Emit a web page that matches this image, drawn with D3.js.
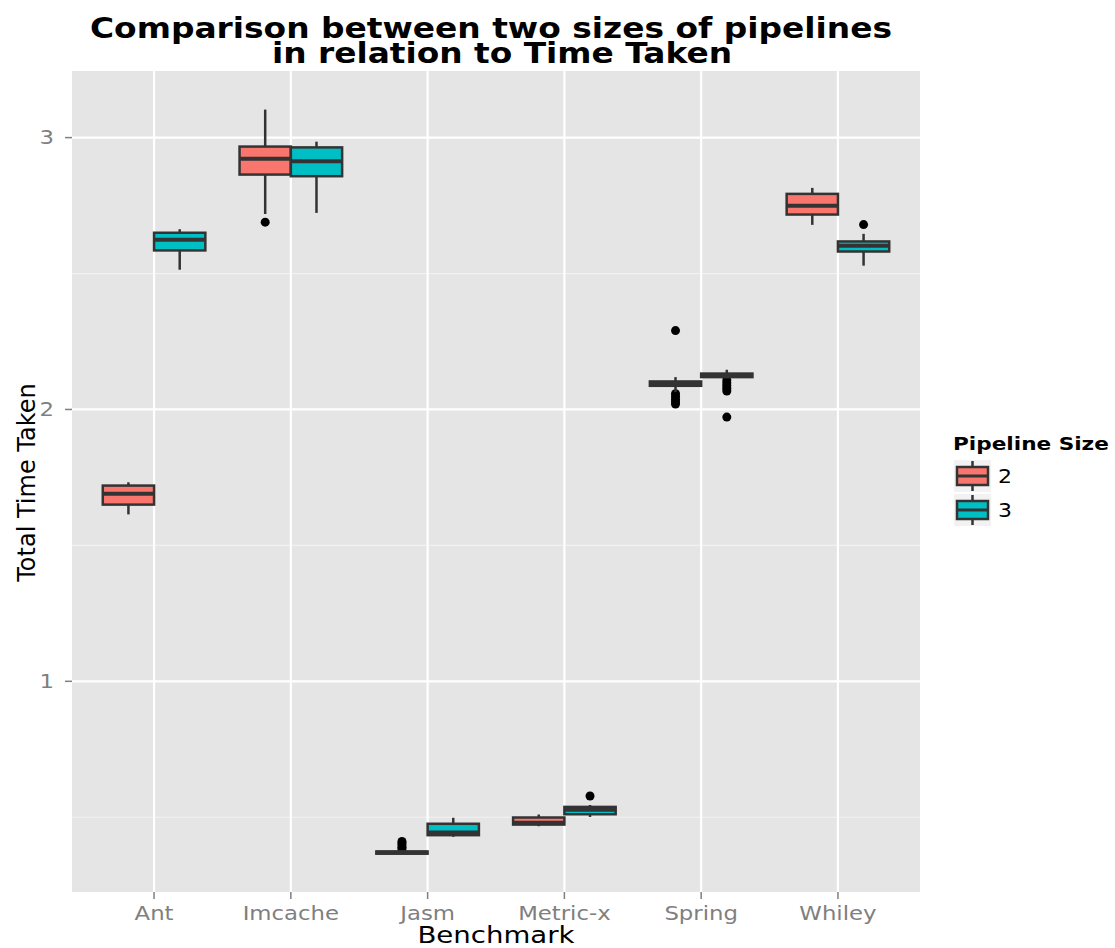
<!DOCTYPE html>
<html>
<head>
<meta charset="utf-8">
<script src="https://cdn.jsdelivr.net/npm/d3@7"></script>
<style>
  body { margin: 0; background: #fff; }
  text { font-family: "DejaVu Sans", sans-serif; }
</style>
</head>
<body>
<script>
// chart data
const benchmarks = ["Ant", "Imcache", "Jasm", "Metric-x", "Spring", "Whiley"];
const sizes = ["2", "3"];
const yTicks = [1, 2, 3];

// pipeline size 2
const low2    = [1.614, 2.719, 0.366, 0.467, 2.064, 2.679];
const q1_2    = [1.650, 2.864, 0.366, 0.473, 2.087, 2.717];
const med2    = [1.690, 2.922, 0.370, 0.480, 2.095, 2.749];
const q3_2    = [1.720, 2.967, 0.374, 0.499, 2.103, 2.793];
const high2   = [1.732, 3.103, 0.378, 0.510, 2.119, 2.815];
const out2    = [[], [2.689], [0.383, 0.390, 0.398, 0.405, 0.411], [], [2.290, 2.058, 2.048, 2.038, 2.028, 2.020], []];

// pipeline size 3
const low3    = [2.514, 2.723, 0.428, 0.501, 2.115, 2.529];
const q1_3    = [2.585, 2.858, 0.434, 0.511, 2.119, 2.581];
const med3    = [2.624, 2.913, 0.444, 0.528, 2.126, 2.602];
const q3_3    = [2.650, 2.964, 0.476, 0.538, 2.132, 2.618];
const high3   = [2.663, 2.985, 0.498, 0.545, 2.146, 2.646];
const out3    = [[], [], [], [0.578], [2.108, 2.098, 2.088, 2.078, 2.068, 1.972], [2.680]];

const colors = ["#F8766D", "#00BFC4"];

const W = 1115, H = 948;
const panel = {left: 72, right: 920, top: 71, bottom: 892};
const SX = 1.2; // the reference text is drawn a bit wide

const svg = d3.select("body").append("svg")
    .attr("width", W)
    .attr("height", H);

// ggplot style discrete axis: 0.6 units of padding each side
const x = d3.scalePoint()
    .domain(benchmarks)
    .range([panel.left, panel.right])
    .padding(0.6);
const unit = x.step();
const cx = d => x(d);

const y = d3.scaleLinear()
    .domain([0.225, 3.245])
    .range([panel.bottom, panel.top]);

// text helper, stretched horizontally
function wideText(sel, tx, ty, sx) {
  return sel.attr("transform", (d, i) => "translate(" + tx(d, i) + "," + ty(d, i) + ") scale(" + sx + ",1)");
}

// panel background
svg.append("rect")
    .attr("x", panel.left).attr("y", panel.top)
    .attr("width", panel.right - panel.left)
    .attr("height", panel.bottom - panel.top)
    .attr("fill", "#E5E5E5");

// minor grid
const minor = [0.5, 1.5, 2.5];
svg.selectAll("line.minor").data(minor).enter().append("line")
    .attr("class", "minor")
    .attr("x1", panel.left).attr("x2", panel.right)
    .attr("y1", d => y(d)).attr("y2", d => y(d))
    .attr("stroke", "#F2F2F2").attr("stroke-width", 1.2);

// major grid
svg.selectAll("line.hgrid").data(yTicks).enter().append("line")
    .attr("class", "hgrid")
    .attr("x1", panel.left).attr("x2", panel.right)
    .attr("y1", d => y(d)).attr("y2", d => y(d))
    .attr("stroke", "#fff").attr("stroke-width", 2.2);

svg.selectAll("line.vgrid").data(benchmarks).enter().append("line")
    .attr("class", "vgrid")
    .attr("x1", d => cx(d)).attr("x2", d => cx(d))
    .attr("y1", panel.top).attr("y2", panel.bottom)
    .attr("stroke", "#fff").attr("stroke-width", 2.2);

// build box rows from the arrays
function rows(si, lo, a, m, b, hi, outs) {
  return benchmarks.map((bm, i) => ({
    bench: bm, size: sizes[si], si: si,
    low: lo[i], q1: a[i], med: m[i], q3: b[i], high: hi[i], outs: outs[i]
  }));
}
const boxes = rows(0, low2, q1_2, med2, q3_2, high2, out2)
  .concat(rows(1, low3, q1_3, med3, q3_3, high3, out3));

const boxW = unit * 0.375;
const boxX = d => cx(d.bench) + (d.si === 0 ? -boxW : 0);

const g = svg.append("g");

// outliers
boxes.forEach(function(d) {
  g.selectAll(null).data(d.outs).enter().append("circle")
    .attr("cx", boxX(d) + boxW / 2)
    .attr("cy", v => y(v))
    .attr("r", 4.5)
    .attr("fill", "#000");
});

// whiskers
g.selectAll("line.whisker").data(boxes).enter().append("line")
    .attr("class", "whisker")
    .attr("x1", d => boxX(d) + boxW / 2).attr("x2", d => boxX(d) + boxW / 2)
    .attr("y1", d => y(d.low)).attr("y2", d => y(d.high))
    .attr("stroke", "#333").attr("stroke-width", 2.5);

// boxes
g.selectAll("rect.box").data(boxes).enter().append("rect")
    .attr("class", "box")
    .attr("x", d => boxX(d))
    .attr("y", d => y(d.q3))
    .attr("width", boxW)
    .attr("height", d => Math.max(0.5, y(d.q1) - y(d.q3)))
    .attr("fill", d => colors[d.si])
    .attr("stroke", "#333").attr("stroke-width", 2.5);

// medians
g.selectAll("line.median").data(boxes).enter().append("line")
    .attr("class", "median")
    .attr("x1", d => boxX(d)).attr("x2", d => boxX(d) + boxW)
    .attr("y1", d => y(d.med)).attr("y2", d => y(d.med))
    .attr("stroke", "#333").attr("stroke-width", 4);

// y axis
svg.selectAll("line.ytick").data(yTicks).enter().append("line")
    .attr("x1", panel.left - 7).attr("x2", panel.left)
    .attr("y1", d => y(d)).attr("y2", d => y(d))
    .attr("stroke", "#7f7f7f").attr("stroke-width", 1.5);
wideText(svg.selectAll("text.ylab").data(yTicks).enter().append("text"),
    () => panel.left - 18, d => y(d), SX)
    .attr("dy", "0.36em")
    .attr("text-anchor", "end")
    .attr("font-size", 19)
    .attr("fill", "#7f7f7f")
    .text(d => d);

// x axis
svg.selectAll("line.xtick").data(benchmarks).enter().append("line")
    .attr("x1", d => cx(d)).attr("x2", d => cx(d))
    .attr("y1", panel.bottom).attr("y2", panel.bottom + 7)
    .attr("stroke", "#7f7f7f").attr("stroke-width", 1.5);
wideText(svg.selectAll("text.xlab").data(benchmarks).enter().append("text"),
    d => cx(d), () => 920, SX)
    .attr("text-anchor", "middle")
    .attr("font-size", 19)
    .attr("fill", "#7f7f7f")
    .text(d => d);

// axis titles
wideText(svg.append("text"), () => (panel.left + panel.right) / 2, () => 943, SX)
    .attr("text-anchor", "middle")
    .attr("font-size", 23)
    .text("Benchmark");
svg.append("text")
    .attr("transform", "translate(35," + ((panel.top + panel.bottom) / 2 + 1) + ") rotate(-90)")
    .attr("text-anchor", "middle")
    .attr("font-size", 24)
    .text("Total Time Taken");

// title
const title = ["Comparison between two sizes of pipelines", "in relation to Time Taken"];
const titleW = [802, 460];
const titleX = [491, 502];
svg.selectAll("text.title").data(title).enter().append("text")
    .attr("x", (d, i) => titleX[i])
    .attr("y", (d, i) => 38 + i * 25)
    .attr("text-anchor", "middle")
    .attr("font-size", 29)
    .attr("font-weight", "bold")
    .attr("textLength", (d, i) => titleW[i])
    .attr("lengthAdjust", "spacingAndGlyphs")
    .text(d => d);

// legend
const leg = svg.append("g").attr("transform", "translate(954,0)");
wideText(leg.append("text"), () => -1, () => 450, SX)
    .attr("font-size", 18)
    .attr("font-weight", "bold")
    .text("Pipeline Size");
const key = leg.selectAll("g.key").data(sizes).enter().append("g")
    .attr("transform", (d, i) => "translate(0," + (460 + i * 34) + ")");
key.append("rect")
    .attr("width", 37).attr("height", 32)
    .attr("fill", "#F2F2F2");
key.append("line")
    .attr("x1", 18.5).attr("x2", 18.5).attr("y1", 1).attr("y2", 31)
    .attr("stroke", "#333").attr("stroke-width", 2.5);
key.append("rect")
    .attr("x", 3).attr("y", 7).attr("width", 31).attr("height", 18)
    .attr("fill", (d, i) => colors[i])
    .attr("stroke", "#333").attr("stroke-width", 2.5);
key.append("line")
    .attr("x1", 3).attr("x2", 34).attr("y1", 16).attr("y2", 16)
    .attr("stroke", "#333").attr("stroke-width", 3);
wideText(key.append("text"), () => 44, () => 16, 1.1)
    .attr("dy", "0.36em")
    .attr("font-size", 20)
    .text(d => d);
</script>
</body>
</html>
